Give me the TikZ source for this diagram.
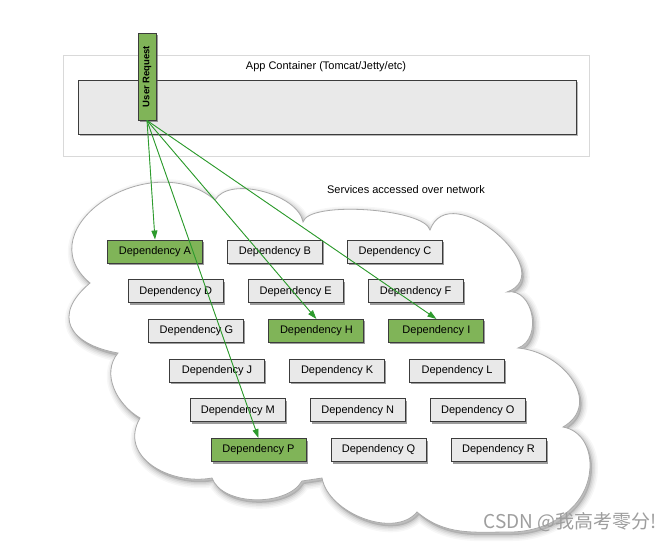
\documentclass[tikz,border=0pt]{standalone}
\usepackage{fontspec}
\setmainfont{Liberation Sans}
\newfontfamily\cjkfont{Noto Sans CJK SC}
\usetikzlibrary{arrows.meta,shadows}
\definecolor{depgray}{RGB}{233,233,233}
\definecolor{depgreen}{RGB}{128,180,88}
\definecolor{linegreen}{RGB}{45,155,45}
\definecolor{boxborder}{RGB}{60,60,60}
\definecolor{cloudborder}{RGB}{170,170,170}
\def\cloudpath{(90,-283) to[out=140,in=140,looseness=1.45] (215,-200)
  to[out=60,in=100,looseness=0.8] (303,-222)
  to[out=75,in=105,looseness=0.45] (430,-230)
  to[out=70,in=20,looseness=1.5] (507,-292)
  to[out=10,in=20,looseness=1.2] (518,-348)
  to[out=-5,in=30,looseness=1.3] (563,-427)
  to[out=-10,in=90] (590,-465)
  to[out=-90,in=0] (510,-532)
  to[out=180,in=-40] (417,-512)
  to[out=230,in=-80,looseness=0.9] (322,-478)
  -- (302,-481)
  to[out=240,in=-70,looseness=0.85] (212,-478)
  to[out=190,in=240,looseness=1.2] (140,-418)
  to[out=150,in=230,looseness=1] (118,-353)
  to[out=170,in=220,looseness=1.7] (90,-283) -- cycle}
\tikzset{
  boxshadow/.style={drop shadow={shadow xshift=1.5pt,shadow yshift=-2pt,opacity=0.55,fill=black!70}},
  dep/.style={draw=boxborder, line width=0.9pt, fill=depgray, minimum width=95pt,
    minimum height=23pt, inner sep=0pt, font=\fontsize{11}{13}\selectfont, boxshadow},
  depg/.style={dep, fill=depgreen},
  req/.style={-{Triangle[length=9pt,width=6pt]}, draw=linegreen, line width=0.9pt, fill=linegreen},
  lbl/.style={font=\fontsize{11}{13}\selectfont, inner sep=0pt}
}
\begin{document}
\begin{tikzpicture}[x=1pt,y=1pt]
\path[use as bounding box, fill=white] (0,0) rectangle (671,-542);
% app container
\draw[draw=black!15, line width=0.8pt] (63,-55) rectangle (589,-156);
\node[lbl] (apptext) at (326,-67) {App Container (Tomcat/Jetty/etc)};
\path[fill=black!55, opacity=0.5] (80,-82) rectangle (578,-136);
\node[draw=boxborder, line width=0.9pt, fill=depgray, minimum width=498pt, minimum height=54pt,
  inner sep=0pt, anchor=north west] (container) at (78,-80) {};
% user request
\node[draw=boxborder, line width=0.9pt, fill=depgreen, minimum width=87pt, minimum height=18pt,
  inner sep=0pt, rotate=90, font=\fontsize{9.5}{11}\selectfont\bfseries, boxshadow] (ur) at (147,-76.5) {User Request};
% cloud shadow
\foreach \w/\o in {12/0.03,9/0.04,6/0.05,3/0.07}
  \draw[line width=\w pt, black, opacity=\o, line join=round, shift={(2,-3)}] \cloudpath;
\fill[black, opacity=0.15, shift={(2,-3)}] \cloudpath;
\draw[draw=cloudborder, line width=0.8pt, fill=white] \cloudpath;
\node[lbl] (svc) at (406,-190) {Services accessed over network};
% dependencies
\node[depg] (A) at (155,-251.5) {Dependency A};
\node[dep]  (B) at (275,-251.5) {Dependency B};
\node[dep]  (C) at (395,-251.5) {Dependency C};
\node[dep]  (D) at (175.7,-291.2) {Dependency D};
\node[dep]  (E) at (295.7,-291.2) {Dependency E};
\node[dep]  (F) at (415.7,-291.2) {Dependency F};
\node[dep]  (G) at (196.4,-330.9) {Dependency G};
\node[depg] (H) at (316.4,-330.9) {Dependency H};
\node[depg] (I) at (436.4,-330.9) {Dependency I};
\node[dep]  (J) at (217.1,-370.6) {Dependency J};
\node[dep]  (K) at (337.1,-370.6) {Dependency K};
\node[dep]  (L) at (457.1,-370.6) {Dependency L};
\node[dep]  (M) at (237.8,-410.3) {Dependency M};
\node[dep]  (N) at (357.8,-410.3) {Dependency N};
\node[dep]  (O) at (477.8,-410.3) {Dependency O};
\node[depg] (P) at (258.5,-450) {Dependency P};
\node[dep]  (Q) at (378.5,-450) {Dependency Q};
\node[dep]  (R) at (498.5,-450) {Dependency R};
% requests
\draw[req] (ur.west) -- (A.north);
\draw[req] (ur.west) -- (P.north);
\draw[req] (ur.west) -- (H.north);
\draw[req] (ur.west) -- (I.north);
% watermark
\node[font=\cjkfont\fontsize{19}{21}\selectfont, text=black!38, inner sep=0pt, anchor=east] (wm) at (657,-522) {CSDN @我高考零分!};
\end{tikzpicture}
\end{document}
